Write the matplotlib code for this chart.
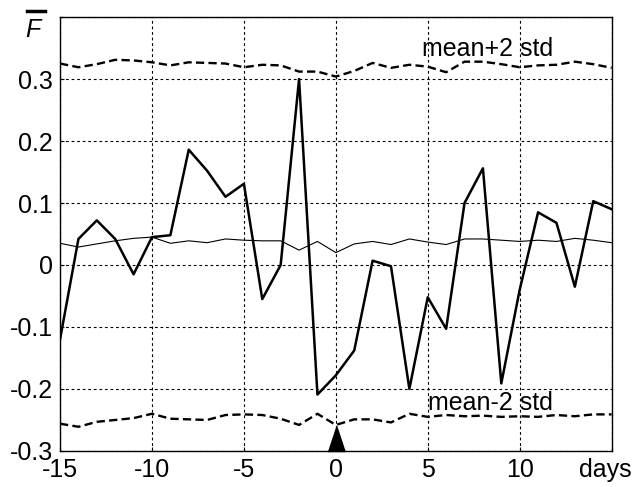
import matplotlib as mpl
mpl.use("Agg")
import matplotlib.pyplot as plt
import numpy as np
from matplotlib.lines import Line2D

mpl.rcParams['font.family'] = ['Liberation Sans', 'DejaVu Sans']
mpl.rcParams['axes.unicode_minus'] = False

days = np.arange(-15, 16)
# daily F values (thick line)
f_vals = [-0.12, 0.042, 0.072, 0.042, -0.015, 0.045, 0.048, 0.186, 0.152, 0.11,
          0.131, -0.055, 0.0, 0.3, -0.209, -0.178, -0.138, 0.007, -0.002, -0.2,
          -0.052, -0.103, 0.1, 0.156, -0.191, -0.04, 0.085, 0.068, -0.035, 0.103,
          0.09]
# mean (thin line)
mean_vals = [0.035, 0.029, 0.034, 0.039, 0.043, 0.045, 0.035, 0.039, 0.036, 0.042,
             0.040, 0.039, 0.039, 0.024, 0.038, 0.020, 0.034, 0.038, 0.033, 0.042,
             0.037, 0.033, 0.042, 0.042, 0.040, 0.038, 0.040, 0.038, 0.043, 0.040,
             0.036]
upper_vals = [0.325, 0.319, 0.324, 0.331, 0.330, 0.327, 0.322, 0.327, 0.326, 0.325,
              0.319, 0.323, 0.322, 0.312, 0.312, 0.304, 0.313, 0.326, 0.318, 0.323,
              0.320, 0.311, 0.328, 0.328, 0.324, 0.319, 0.322, 0.323, 0.328, 0.324,
              0.318]
lower_vals = [-0.256, -0.261, -0.253, -0.250, -0.247, -0.240, -0.248, -0.249, -0.250, -0.242,
              -0.241, -0.242, -0.248, -0.258, -0.240, -0.258, -0.249, -0.249, -0.254, -0.240,
              -0.245, -0.242, -0.244, -0.243, -0.245, -0.244, -0.245, -0.242, -0.244, -0.241,
              -0.241]
xticks = [-15, -10, -5, 0, 5, 10]
yticks = [-0.3, -0.2, -0.1, 0, 0.1, 0.2, 0.3]
ytick_labels = ['-0.3', '-0.2', '-0.1', '0', '0.1', '0.2', '0.3']

fig = plt.figure(figsize=(6.34, 4.87), dpi=100)
ax = fig.add_axes([0.0947, 0.074, 0.870, 0.891])

ax.plot(days, upper_vals, color='black', lw=1.7, ls=(0, (3.5, 1.8)))
ax.plot(days, lower_vals, color='black', lw=1.7, ls=(0, (3.5, 1.8)))
ax.plot(days, mean_vals, color='black', lw=0.8)
ax.plot(days, f_vals, color='black', lw=1.8)

# event marker at day 0
ax.plot([0], [-0.3], marker=[(-0.33, 0), (0.33, 0), (0, 1)], ms=37,
        color='black', clip_on=False)

ax.set_xlim(-15, 15)
ax.set_ylim(-0.3, 0.4)
ax.set_xticks(xticks + [15])
ax.set_xticklabels([str(t) for t in xticks] + [''])
ax.set_yticks(yticks + [0.4])
ax.set_yticklabels(ytick_labels + [''])
ax.grid(True, color='black', ls=(0, (2.5, 2.5)), lw=0.8)
ax.tick_params(direction='in', length=3, labelsize=18, pad=5, colors='black')
for s in ax.spines.values():
    s.set_linewidth(1.0)

ax.text(4.7, 0.349, 'mean+2 std', fontsize=18, ha='left', va='center')
ax.text(5.0, -0.223, 'mean-2 std', fontsize=18, ha='left', va='center')
fig.text(605 / 634, 1 - 470 / 487, 'days', fontsize=18, ha='center', va='center')
# F with a bar on top
fig.text(33 / 634, 1 - 30 / 487, 'F', fontsize=18, style='italic', ha='center', va='center')
fig.add_artist(Line2D([27 / 634, 45 / 634], [1 - 11 / 487, 1 - 11 / 487],
                      color='black', lw=2.5, transform=fig.transFigure))

fig.savefig("out.png", dpi=100, facecolor='white')
